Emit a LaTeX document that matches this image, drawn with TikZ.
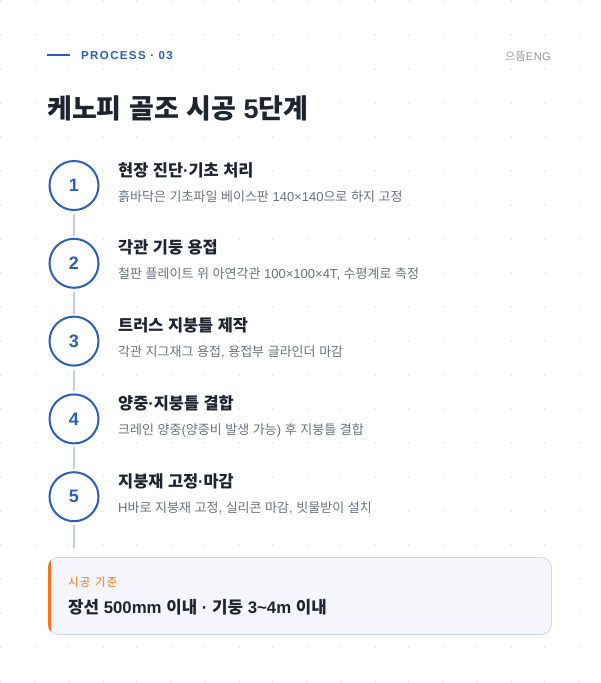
\documentclass[tikz,border=0pt]{standalone}
\usepackage{fontspec}
\setmainfont{Liberation Sans}
\newfontfamily\KRplain[NFSSFamily=krA]{Noto Sans CJK KR}
\newfontfamily\KRspaced[NFSSFamily=krB,LetterSpace=10]{Noto Sans CJK KR}
\newfontfamily\KRsmall[NFSSFamily=krC,LetterSpace=5]{Noto Sans CJK KR}
\newfontfamily\LAplain[NFSSFamily=laA]{Liberation Sans}
\newfontfamily\LAspaced[NFSSFamily=laB,LetterSpace=12]{Liberation Sans}
\newfontfamily\LAsmall[NFSSFamily=laC,LetterSpace=5]{Liberation Sans}
\def\krfam{krA}\def\lafam{laA}
\newcommand\toKR{\fontfamily{\krfam}\selectfont}
\newcommand\toLA{\fontfamily{\lafam}\selectfont}
\XeTeXinterchartokenstate=1
\newXeTeXintercharclass\HanCls
\newcount\hcnt
\hcnt="AC00
\loop
  \XeTeXcharclass\hcnt=\HanCls
  \ifnum\hcnt<"D7A3 \advance\hcnt by 1
\repeat
\XeTeXinterchartoks 0 \HanCls = {\toKR}
\XeTeXinterchartoks 4095 \HanCls = {\toKR}
\XeTeXinterchartoks \HanCls 0 = {\toLA}
\XeTeXinterchartoks \HanCls 4095 = {\toLA}
\definecolor{accent}{HTML}{2A5FC1}
\definecolor{ink}{HTML}{1E2430}
\definecolor{muted}{HTML}{6B7280}
\definecolor{faint}{HTML}{8C96A8}
\definecolor{rail}{HTML}{BCD0EC}
\definecolor{dotc}{HTML}{E4E7EC}
\definecolor{warn}{HTML}{F97316}
\definecolor{boxfill}{HTML}{F3F6FB}
\definecolor{boxline}{HTML}{C8D8EF}
\tikzset{
  stepcircle/.style={circle, draw=accent, line width=2pt, fill=white, minimum size=49pt, inner sep=0pt,
    text=accent, font=\fontsize{18}{20}\selectfont\bfseries},
  steptitle/.style={anchor=base west, inner sep=0pt, text=ink, font=\fontsize{16.4}{20}\selectfont\bfseries},
  stepdesc/.style={anchor=base west, inner sep=0pt, text=muted, font=\fontsize{13}{16}\selectfont},
  railline/.style={draw=rail, line width=1.6pt, shorten <=3pt, shorten >=2pt},
  infobox/.style={draw=boxline, line width=0.8pt, fill=boxfill, fill opacity=0.9, rounded corners=10pt, inner sep=0pt},
}
\begin{document}
\begin{tikzpicture}[x=1pt,y=-1pt]
\useasboundingbox (0,0) rectangle (600,683);
\fill[white] (0,0) rectangle (600,683);
% dot grid
\foreach \i in {0,...,17} {
  \foreach \j in {0,...,20} {
    \fill[dotc] (1+34*\i, 1+34*\j) circle (1.0);
  }
}
% header
\coordinate (hl1) at (47,55);
\coordinate (hl2) at (69.5,55);
\draw[accent, line width=2pt] (hl1) -- (hl2);
\node[anchor=base west, inner sep=0pt, text=accent, font=\def\krfam{krB}\def\lafam{laB}\fontsize{11.5}{14}\selectfont\LAspaced\bfseries] (proc) at (81,59.5) {PROCESS · 03};
\node[anchor=base east, inner sep=0pt, text=faint, font=\def\krfam{krC}\def\lafam{laC}\fontsize{11}{12}\selectfont\LAsmall] (brand) at (551,60) {으뜸ENG};
\node[anchor=base west, inner sep=0pt, text=ink, font=\fontsize{27}{32}\selectfont\bfseries] (title) at (47,118) {케노피 골조 시공 5단계};
% steps
\foreach \k/\t/\d in {
  1/{현장 진단·기초 처리}/{흙바닥은 기초파일 베이스판 140×140으로 하지 고정},
  2/{각관 기둥 용접}/{철판 플레이트 위 아연각관 100×100×4T, 수평계로 측정},
  3/{트러스 지붕틀 제작}/{각관 지그재그 용접, 용접부 글라인더 마감},
  4/{양중·지붕틀 결합}/{크레인 양중(양중비 발생 가능) 후 지붕틀 결합},
  5/{지붕재 고정·마감}/{H바로 지붕재 고정, 실리콘 마감, 빗물받이 설치}} {
  \pgfmathsetmacro{\yy}{185.5+77.8*(\k-1)}
  \node[stepcircle] (c\k) at (74,\yy) {\k};
  \node[steptitle] (t\k) at (118,\yy-9.5) {\t};
  \node[stepdesc] (d\k) at (118,\yy+15.5) {\d};
}
\foreach \a/\b in {1/2,2/3,3/4,4/5} {
  \draw[railline] (c\a) -- (c\b);
}
\coordinate (railend) at (74,548);
\draw[railline, shorten >=0pt] (c5) -- (railend);
% info box
\node[infobox, anchor=north west, minimum width=503pt, minimum height=77pt] (box) at (48,557) {};
\begin{scope}
  \clip[rounded corners=10pt] (box.north west) rectangle (box.south east);
  \fill[warn] (box.north west) rectangle ([xshift=3pt]box.south west);
\end{scope}
\node[anchor=base west, inner sep=0pt, text=warn, font=\def\krfam{krB}\def\lafam{laB}\fontsize{11.5}{13}\selectfont] (boxlabel) at (68,586.5) {시공 기준};
\node[anchor=base west, inner sep=0pt, text=ink, font=\fontsize{16.8}{19}\selectfont\bfseries] (boxtext) at (68,613) {장선 500mm 이내 · 기둥 3\textasciitilde4m 이내};
\end{tikzpicture}
\end{document}
